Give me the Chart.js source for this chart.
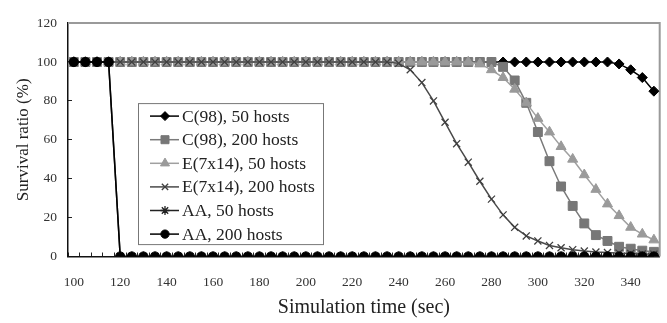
<!DOCTYPE html>
<html><head><meta charset="utf-8">
<script src="https://cdn.jsdelivr.net/npm/chart.js@4/dist/chart.umd.min.js"></script>
<style>html,body{margin:0;padding:0;background:#fff}#wrap{width:667px;height:323px;position:relative}</style>
</head><body><div id="wrap"><canvas id="c" width="667" height="323"></canvas></div>
<script>
// ---- data ----
const times = [100,105,110,115,120,125,130,135,140,145,150,155,160,165,170,175,180,185,190,195,200,205,210,215,220,225,230,235,240,245,250,255,260,265,270,275,280,285,290,295,300,305,310,315,320,325,330,335,340,345,350];
const xTickLabels = [100,120,140,160,180,200,220,240,260,280,300,320,340];
const yTickLabels = [0,20,40,60,80,100,120];
const seriesNames = ["C(98), 50 hosts","C(98), 200 hosts","E(7x14), 50 hosts","E(7x14), 200 hosts","AA, 50 hosts","AA, 200 hosts"];
const c98_50 = [100,100,100,100,100,100,100,100,100,100,100,100,100,100,100,100,100,100,100,100,100,100,100,100,100,100,100,100,100,100,100,100,100,100,100,100,100,100,100,100,100,100,100,100,100,100,100,99,96,92,85];
const c98_200 = [100,100,100,100,100,100,100,100,100,100,100,100,100,100,100,100,100,100,100,100,100,100,100,100,100,100,100,100,100,100,100,100,100,100,100,100,100,97.5,90.5,79,64,49,36,26,17,11,8,5,4,3,2.4];
const e714_50 = [100,100,100,100,100,100,100,100,100,100,100,100,100,100,100,100,100,100,100,100,100,100,100,100,100,100,100,100,100,100,100,100,100,100,100,99,96,92,86,79,71,64,56.5,50,42,34.5,27,21,15,11.5,8.5];
const e714_200 = [100,100,100,100,100,100,100,100,100,100,100,100,100,100,100,100,100,100,100,100,100,100,100,100,100,100,100,100,99.3,96,89.4,80,69,58,48.5,38.7,29.5,21.4,15,10.6,8,5.7,4.5,3.5,2.8,2.3,2,1.7,1.5,1.3,1.2];
const aa_50 = [100,100,100,100,0,0,0,0,0,0,0,0,0,0,0,0,0,0,0,0,0,0,0,0,0,0,0,0,0,0,0,0,0,0,0,0,0,0,0,0,0,0,0,0,0,0,0,0,0,0,0];
const aa_200 = [100,100,100,100,0,0,0,0,0,0,0,0,0,0,0,0,0,0,0,0,0,0,0,0,0,0,0,0,0,0,0,0,0,0,0,0,0,0,0,0,0,0,0,0,0,0,0,0,0,0,0];

// ---- styles ----
const styles = [
  {line:'#000000', fill:'#000000', stroke:'#000000', pointStyle:'rectRot', radius:5, bw:1},
  {line:'#7a7a7a', fill:'#777777', stroke:'#777777', pointStyle:'rect', radius:6.3, bw:1},
  {line:'#a0a0a0', fill:'#9a9a9a', stroke:'#9a9a9a', pointStyle:'triangle', radius:5.8, bw:1},
  {line:'#4a4a4a', fill:'#4a4a4a', stroke:'#404040', pointStyle:'crossRot', radius:5, bw:1.3},
  {line:'#222222', fill:'#222222', stroke:'#222222', pointStyle:'star', radius:5, bw:1.3},
  {line:'#000000', fill:'#000000', stroke:'#000000', pointStyle:'circle', radius:4.6, bw:1}
];
const allSeries = [c98_50, c98_200, e714_50, e714_200, aa_50, aa_200];
const SERIF = "'Liberation Serif','DejaVu Serif',serif";

const datasets = allSeries.map((vals, i) => ({
  label: seriesNames[i],
  data: times.map((t, j) => ({x: t, y: vals[j]})),
  borderColor: styles[i].line,
  backgroundColor: styles[i].fill,
  pointBackgroundColor: styles[i].fill,
  pointBorderColor: styles[i].stroke,
  pointBorderWidth: styles[i].bw,
  pointStyle: styles[i].pointStyle,
  pointRadius: styles[i].radius,
  borderWidth: 1.5,
  tension: 0,
  order: allSeries.length - i
}));

const frame = {
  id: 'frame',
  beforeDatasetsDraw(chart) {
    const {ctx, chartArea: a} = chart;
    ctx.save();
    ctx.strokeStyle = '#9a9a9a';
    ctx.lineWidth = 2;
    ctx.beginPath();
    ctx.moveTo(a.left, a.top); ctx.lineTo(a.right, a.top); ctx.lineTo(a.right, a.bottom);
    ctx.stroke();
    ctx.restore();
  }
};

const boxLegend = {
  id: 'boxLegend',
  afterDatasetsDraw(chart) {
    const {ctx, chartArea: a} = chart;
    const x0 = a.left + 70, y0 = a.top + 80, w = 185, h = 141, rowH = 23.6;
    ctx.save();
    ctx.fillStyle = '#fff';
    ctx.fillRect(x0, y0, w, h);
    ctx.strokeStyle = '#777';
    ctx.lineWidth = 1;
    ctx.strokeRect(x0 + 0.5, y0 + 0.5, w, h);
    ctx.font = "17.5px " + SERIF;
    ctx.textBaseline = 'middle';
    chart.data.datasets.forEach((ds, i) => {
      const cy = y0 + 13 + i * rowH;
      ctx.strokeStyle = ds.borderColor;
      ctx.lineWidth = 1.5;
      ctx.beginPath(); ctx.moveTo(x0 + 12, cy); ctx.lineTo(x0 + 41, cy); ctx.stroke();
      ctx.fillStyle = ds.pointBackgroundColor;
      ctx.strokeStyle = ds.pointBorderColor;
      ctx.lineWidth = ds.pointBorderWidth;
      if (Chart.helpers && Chart.helpers.drawPoint) {
        Chart.helpers.drawPoint(ctx, {pointStyle: ds.pointStyle, radius: ds.pointRadius * 0.9, rotation: 0, borderWidth: ds.pointBorderWidth}, x0 + 27, cy);
      }
      ctx.fillStyle = '#222';
      ctx.fillText(ds.label, x0 + 44, cy + 1);
    });
    ctx.restore();
  }
};

new Chart(document.getElementById('c'), {
  type: 'line',
  data: { datasets },
  options: {
    responsive: false,
    animation: false,
    devicePixelRatio: 1,
    layout: { padding: { top: 13, right: 5, left: 0, bottom: 0 } },
    plugins: { legend: { display: false }, tooltip: { enabled: false } },
    scales: {
      x: {
        type: 'linear', position: 'bottom', min: 97.5, max: 352.5, weight: 1,
        afterBuildTicks: s => { s.ticks = xTickLabels.map(v => ({value: v})); },
        afterFit: s => { s.height = 66.5; },
        grid: { display: true, drawOnChartArea: false, drawTicks: false },
        border: { display: true, color: '#111', width: 1.5 },
        ticks: { color: '#333', font: { family: SERIF, size: 13.5 }, padding: 18, maxRotation: 0, autoSkip: false },
        title: { display: true, text: 'Simulation time (sec)', color: '#222', font: { family: SERIF, size: 20 }, padding: { top: 0, bottom: 3 } }
      },
      xm: {
        type: 'linear', position: 'bottom', min: 97.5, max: 352.5, weight: 0,
        afterBuildTicks: s => { const t = []; for (let k = 0; k < times.length + 1; k++) t.push({value: times[0] - 2.5 + 5 * k}); s.ticks = t; },
        afterFit: s => { s.height = 0; },
        grid: { display: true, drawOnChartArea: false, drawTicks: true, tickLength: -4, color: '#222', lineWidth: 1 },
        border: { display: false },
        ticks: { display: false }
      },
      y: {
        min: 0, max: 120,
        afterBuildTicks: s => { s.ticks = yTickLabels.map(v => ({value: v})); },
        afterFit: s => { s.width = 68; },
        grid: { display: true, drawOnChartArea: false, drawTicks: true, tickLength: -4, color: '#222' },
        border: { display: true, color: '#111', width: 1.5 },
        ticks: { color: '#333', font: { family: SERIF, size: 13.5 }, padding: 15 },
        title: { display: true, text: 'Survival ratio (%)', color: '#222', font: { family: SERIF, size: 17 }, padding: { top: 13, bottom: 0 } }
      }
    }
  },
  plugins: [frame, boxLegend]
});
</script></body></html>
